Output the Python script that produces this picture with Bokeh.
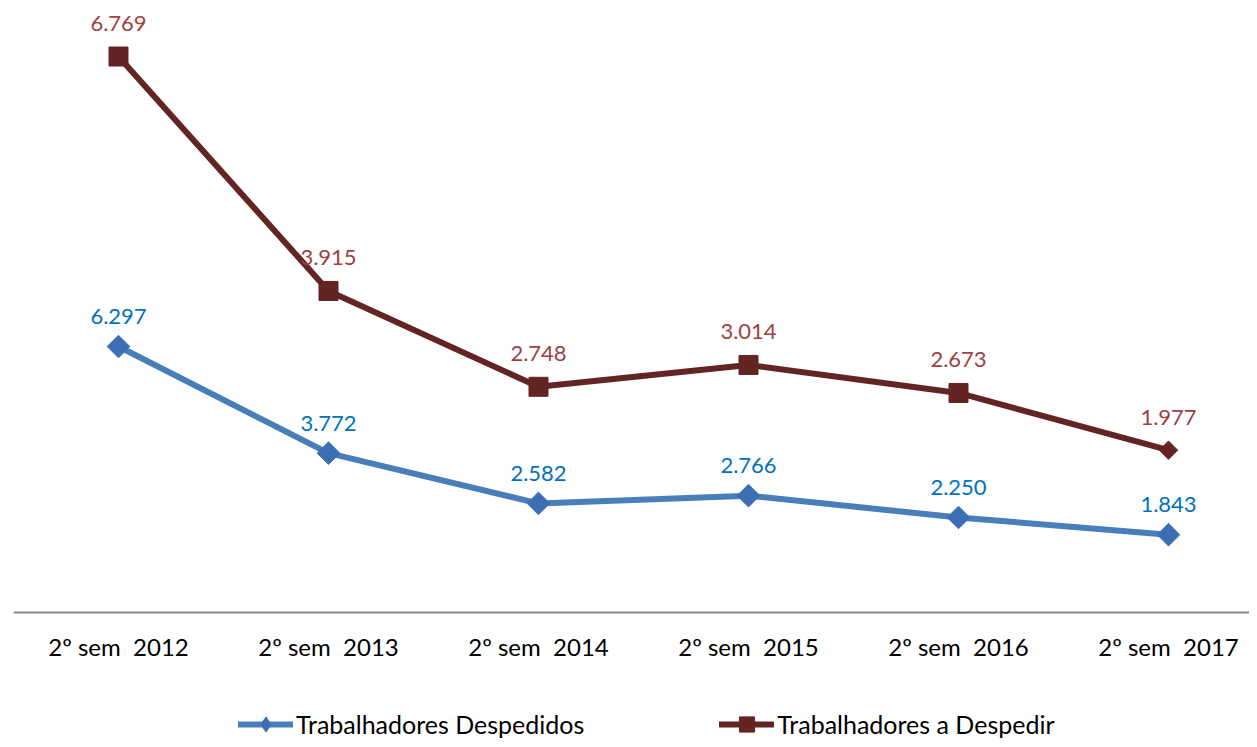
import math
from bokeh.plotting import figure
from bokeh.models import Range1d, FixedTicker, Legend, LegendItem, ColumnDataSource, LabelSet
from bokeh.core.properties import value
from bokeh.embed import file_html
from bokeh.resources import INLINE

categories = ["2º sem  2012", "2º sem  2013", "2º sem  2014", "2º sem  2015", "2º sem  2016", "2º sem  2017"]
despedidos = [6.297, 3.772, 2.582, 2.766, 2.250, 1.843]
a_despedir = [6.769, 3.915, 2.748, 3.014, 2.673, 1.977]

FONT = "Lato"
BLUE_LINE = "#4A7EBB"
BLUE_MARK = "#3C6EB4"
RED = "#632523"
BLUE_TXT = "#0070C0"
RED_TXT = "#A0403F"

n = len(categories)
xs = list(range(n))

# frame spans full figure height; y=0 sits at the axis line
p = figure(width=1249, height=739, output_backend="svg", toolbar_location=None,
           x_range=Range1d(-0.5, -0.5 + 1236 / 210), y_range=Range1d(-1.546, 7.451),
           min_border_left=13, min_border_right=0, min_border_top=0, min_border_bottom=0)
p.extra_y_ranges = {"b": Range1d(-3.007, 14.489)}
p.outline_line_color = None
p.xgrid.visible = False
p.ygrid.visible = False
p.yaxis.visible = False

ax = p.xaxis[0]
ax.fixed_location = 0
ax.ticker = FixedTicker(ticks=xs)
ax.major_label_overrides = {i: c.replace("  ", " \u00a0") for i, c in enumerate(categories)}
ax.major_tick_line_color = None
ax.minor_tick_line_color = None
ax.axis_line_color = "#898989"
ax.axis_line_width = 2
ax.major_label_standoff = 13
ax.major_label_text_font = FONT
ax.major_label_text_font_size = "24px"
ax.major_label_text_color = "#000000"

src_b = ColumnDataSource(dict(x=xs, y=despedidos, t=[f"{v:.3f}" for v in despedidos]))
src_r = ColumnDataSource(dict(x=xs, y=a_despedir, t=[f"{v:.3f}" for v in a_despedir]))
src_r_sq = ColumnDataSource(dict(x=xs[:-1], y=a_despedir[:-1]))
src_r_dm = ColumnDataSource(dict(x=xs[-1:], y=a_despedir[-1:]))

bl = p.line("x", "y", source=src_b, y_range_name="b", line_color=BLUE_LINE, line_width=6, line_cap="round")
# diamond glyph used as the legend swatch (sits beneath the rotated squares)
bd = p.scatter("x", "y", source=src_b, y_range_name="b", marker="diamond", size=14,
               fill_color=BLUE_MARK, line_color=BLUE_MARK)
p.scatter("x", "y", source=src_b, y_range_name="b", marker="square", size=16, angle=math.pi / 4,
          fill_color=BLUE_MARK, line_color=BLUE_MARK)
rl = p.line("x", "y", source=src_r, line_color=RED, line_width=6, line_cap="round")
rm = p.scatter("x", "y", source=src_r_sq, marker="square", size=19, fill_color=RED, line_color=RED)
p.scatter("x", "y", source=src_r_dm, marker="square", size=13, angle=math.pi / 4,
          fill_color=RED, line_color=RED)

p.add_layout(LabelSet(x="x", y="y", text="t", source=src_b, y_range_name="b", y_offset=30,
                      text_align="center", text_baseline="middle", text_font=value(FONT),
                      text_font_size=value("22px"), text_color=BLUE_TXT))
p.add_layout(LabelSet(x="x", y="y", text="t", source=src_r, y_offset=33,
                      text_align="center", text_baseline="middle", text_font=value(FONT),
                      text_font_size=value("22px"), text_color=RED_TXT))

legend = Legend(items=[LegendItem(label="Trabalhadores Despedidos", renderers=[bl, bd]),
                       LegendItem(label="Trabalhadores a Despedir", renderers=[rl, rm])],
                orientation="horizontal", location=(225, -4), glyph_width=55, glyph_height=38,
                label_standoff=3, spacing=135, label_text_font=FONT, label_text_font_size="25px",
                label_text_color="#000000", label_text_baseline="middle",
                border_line_color=None, background_fill_alpha=0, padding=0, margin=0)
p.add_layout(legend, "center")

open("out.html", "w").write(file_html(p, INLINE))
